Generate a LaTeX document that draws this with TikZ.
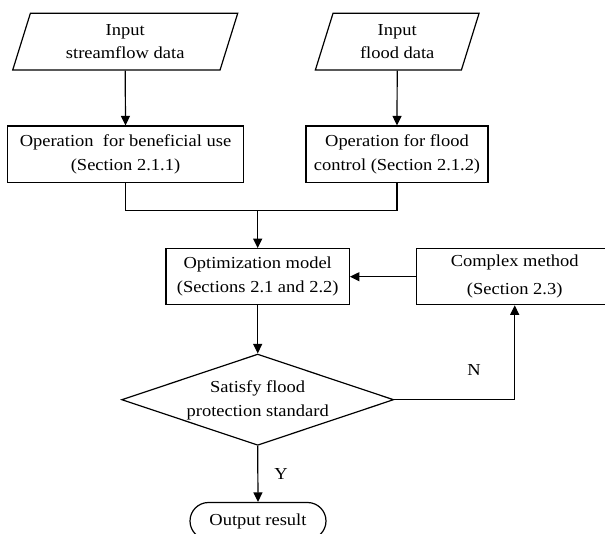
\documentclass[tikz,border=0pt]{standalone}
\usepackage{fontspec}
\setmainfont{Liberation Serif}[FakeStretch=1.1]
\usetikzlibrary{shapes.geometric,arrows.meta}
\begin{document}
\begin{tikzpicture}[x=1pt,y=-1pt,
  base/.style={draw, line width=1.2pt, inner sep=0pt, align=center,
    font=\fontsize{16.8}{23.5}\selectfont},
  io/.style={base, trapezium, trapezium left angle=63, trapezium right angle=117,
    trapezium stretches body, minimum height=56.7pt},
  proc/.style={base, rectangle},
  dec/.style={base, diamond, minimum width=272pt, minimum height=91.3pt},
  term/.style={base, rectangle, rounded corners=18.5pt, minimum width=136pt, minimum height=37pt},
  txt/.style={inner sep=0pt, align=center, font=\fontsize{16.8}{23.5}\selectfont},
  arr/.style={line width=1.2pt, -{Triangle[length=9.5pt,width=9pt]}},
  ln/.style={line width=1.2pt}]
\useasboundingbox (0,0) rectangle (605,534);
% input nodes
\node[io, minimum width=225pt] (p1) at (125.2,41.7) {Input\\streamflow data};
\node[io, minimum width=163.7pt] (p2) at (397.2,41.7) {Input\\flood data};
% process boxes
\node[proc, minimum width=236.4pt, minimum height=56.7pt] (b1) at (125.5,154.4)
  {Operation\ \ for beneficial use\\(Section 2.1.1)};
\node[proc, minimum width=182pt, minimum height=56.7pt] (b2) at (397,154.4)
  {Operation for flood\\control (Section 2.1.2)};
\node[proc, minimum width=183.3pt, minimum height=56pt] (b3) at (257.7,276.7)
  {Optimization model\\(Sections 2.1 and 2.2)};
\node[proc, minimum width=196.8pt, minimum height=56pt] (b4) at (514.7,276.7)
  {Complex method\\[4.5pt](Section 2.3)};
% decision
\node[dec] (d) at (257.7,399.7) {};
\node[txt] (dt) at (257.7,400.5) {Satisfy flood\\protection standard};
% terminal
\node[term] (t) at (258,521) {Output result};
% labels
\node[txt] (ny) at (281,474) {Y};
\node[txt] (nn) at (474,370) {N};
\coordinate (j) at (257.7,210.3);
% connectors
\draw[arr] (p1.south) -- (b1.north);
\draw[arr] (p2.south) -- (b2.north);
\draw[ln] (b1.south) |- (j);
\draw[ln] (b2.south) |- (j);
\draw[arr] (j) -- (b3.north);
\draw[arr] (b4.west) -- (b3.east);
\draw[arr] (b3.south) -- (d.north);
\draw[arr] (d.east) -| (b4.south);
\draw[arr] (d.south) -- (t.north);
\end{tikzpicture}
\end{document}
